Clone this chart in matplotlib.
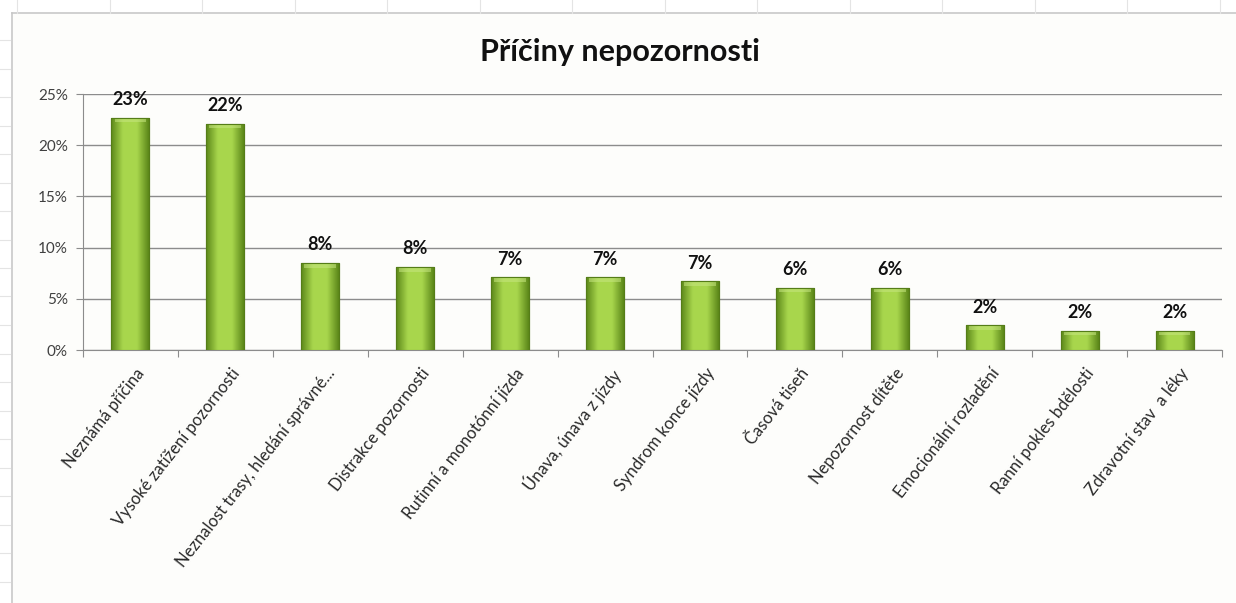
import numpy as np
import matplotlib.pyplot as plt
from matplotlib.lines import Line2D
from matplotlib.ticker import FuncFormatter
import matplotlib.transforms as mtrans

plt.rcParams['font.family'] = ['Lato', 'DejaVu Sans']

# data
categories = ['Neznámá příčina', 'Vysoké zatížení pozornosti', 'Neznalost trasy, hledání správné...',
              'Distrakce pozornosti', 'Rutinní a monotónní jízda', 'Únava, únava z jízdy',
              'Syndrom konce jízdy', 'Časová tiseň', 'Nepozornost dítěte',
              'Emocionální rozladění', 'Ranní pokles bdělosti', 'Zdravotní stav  a léky']
values = [0.227, 0.221, 0.085, 0.081, 0.071, 0.071, 0.067, 0.061, 0.061, 0.024, 0.019, 0.019]
labels = ['23%', '22%', '8%', '8%', '7%', '7%', '7%', '6%', '6%', '2%', '2%', '2%']
yticks = [0, 0.05, 0.10, 0.15, 0.20, 0.25]

fig = plt.figure(figsize=(12.36, 6.03), dpi=100)
fig.patch.set_facecolor('white')

# faint spreadsheet cell lines behind the chart
W, H = 1236.0, 603.0
fig.add_artist(Line2D([12 / W, 1], [1 - 13 / H, 1 - 13 / H], color='#c8c8c8', lw=1.2, transform=fig.transFigure))
fig.add_artist(Line2D([12 / W, 12 / W], [0, 1 - 13 / H], color='#c8c8c8', lw=1.2, transform=fig.transFigure))
for xx in np.arange(17, W, 92.5):
    fig.add_artist(Line2D([xx / W, xx / W], [1 - 13 / H, 1], color='#e4e4e4', lw=0.8, transform=fig.transFigure))
for yy in np.arange(40, H, 28.5):
    fig.add_artist(Line2D([0, 10 / W], [1 - yy / H, 1 - yy / H], color='#e4e4e4', lw=0.8, transform=fig.transFigure))
fig.patches.append(plt.Rectangle((13 / W, 0), 1, 1 - 14 / H, transform=fig.transFigure,
                                 facecolor='#fdfdfb', edgecolor='none', zorder=-1))

ax = fig.add_axes([83 / W, 1 - 350 / H, (1222 - 83) / W, (350 - 94) / H])
ax.set_facecolor('none')

x = np.arange(len(categories))
bars = ax.bar(x, values, width=0.4, color='#8dbb32', edgecolor='#557d18', linewidth=0.8, zorder=3)

# bevelled look: horizontal gradient plus a lighter top rim
grad = np.linspace(0, 1, 64)
prof = 1 - np.abs(grad - 0.5) * 2
prof = np.clip(prof * 1.6, 0, 1)
cmap_cols = np.array([[0.36, 0.53, 0.10], [0.66, 0.84, 0.30]])
img = cmap_cols[0] + (cmap_cols[1] - cmap_cols[0]) * prof[:, None]
img = img[None, :, :]
for b in bars:
    x0, w, h = b.get_x(), b.get_width(), b.get_height()
    im = ax.imshow(img, extent=[x0, x0 + w, 0, h], aspect='auto', zorder=3.5, interpolation='bicubic')
    im.set_clip_path(b)
    rim = min(0.0045, h * 0.3)
    ax.fill_between([x0 + w * 0.08, x0 + w * 0.92], h - rim, h, color='#c6e680', alpha=0.55, zorder=3.6, lw=0)
    ax.bar(x0 + w / 2, h, width=w, fill=False, edgecolor='#557d18', linewidth=0.8, zorder=3.8)

for xi, v, lab in zip(x, values, labels):
    ax.annotate(lab, (xi, v), xytext=(0, 7), textcoords='offset points', ha='center', va='bottom',
                fontsize=13, fontweight='bold', color='#111111')

ax.set_xlim(-0.5, len(categories) - 0.5)
ax.set_ylim(0, 0.25)
ax.set_yticks(yticks)
ax.yaxis.set_major_formatter(FuncFormatter(lambda v, p: f'{v * 100:.0f}%'))
ax.grid(axis='y', color='#8c8c8c', linewidth=1.0, zorder=0)
ax.tick_params(axis='y', length=5, color='#8c8c8c', labelsize=11, labelcolor='#404040', pad=6)

ax.set_xticks(np.arange(-0.5, len(categories), 1.0), minor=False)
ax.set_xticklabels([])
ax.tick_params(axis='x', length=5, color='#8c8c8c', direction='out')
ax.set_xticks(x, minor=True)
ax.set_xticklabels(categories, minor=True, rotation=52, ha='right', rotation_mode='anchor',
                   fontsize=12, color='#2a2a2a')
ax.tick_params(axis='x', which='minor', length=0, pad=11)
shift = mtrans.ScaledTranslation(5 / 100, 0, fig.dpi_scale_trans)
for lab in ax.get_xticklabels(minor=True):
    lab.set_transform(lab.get_transform() + shift)

for s in ['top', 'right']:
    ax.spines[s].set_visible(False)
ax.spines['left'].set_color('#8c8c8c')
ax.spines['bottom'].set_color('#8c8c8c')

fig.text(0.502, 1 - 52 / H, 'Příčiny nepozornosti', ha='center', va='center',
         fontsize=22, fontweight='bold', color='#111111')

fig.savefig('out.png', dpi=100, facecolor=fig.get_facecolor())
